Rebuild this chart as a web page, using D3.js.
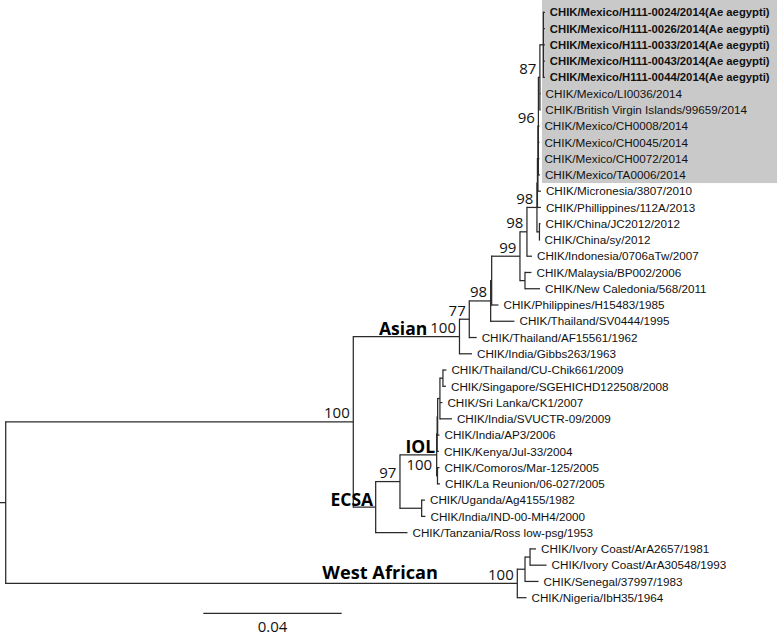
<!DOCTYPE html>
<html>
<head>
<meta charset="utf-8">
<script src="https://cdn.jsdelivr.net/npm/d3@7"></script>
<style>
  html, body { margin: 0; padding: 0; background: #fff; }
  svg { display: block; }
</style>
</head>
<body>
<svg id="chart" width="777" height="635"></svg>
<script>
// ---------------- DATA ----------------
// Tips, in drawing order (top to bottom)
const tipNames = [
  "CHIK/Mexico/H111-0024/2014(Ae aegypti)",
  "CHIK/Mexico/H111-0026/2014(Ae aegypti)",
  "CHIK/Mexico/H111-0033/2014(Ae aegypti)",
  "CHIK/Mexico/H111-0043/2014(Ae aegypti)",
  "CHIK/Mexico/H111-0044/2014(Ae aegypti)",
  "CHIK/Mexico/LI0036/2014",
  "CHIK/British Virgin Islands/99659/2014",
  "CHIK/Mexico/CH0008/2014",
  "CHIK/Mexico/CH0045/2014",
  "CHIK/Mexico/CH0072/2014",
  "CHIK/Mexico/TA0006/2014",
  "CHIK/Micronesia/3807/2010",
  "CHIK/Phillippines/112A/2013",
  "CHIK/China/JC2012/2012",
  "CHIK/China/sy/2012",
  "CHIK/Indonesia/0706aTw/2007",
  "CHIK/Malaysia/BP002/2006",
  "CHIK/New Caledonia/568/2011",
  "CHIK/Philippines/H15483/1985",
  "CHIK/Thailand/SV0444/1995",
  "CHIK/Thailand/AF15561/1962",
  "CHIK/India/Gibbs263/1963",
  "CHIK/Thailand/CU-Chik661/2009",
  "CHIK/Singapore/SGEHICHD122508/2008",
  "CHIK/Sri Lanka/CK1/2007",
  "CHIK/India/SVUCTR-09/2009",
  "CHIK/India/AP3/2006",
  "CHIK/Kenya/Jul-33/2004",
  "CHIK/Comoros/Mar-125/2005",
  "CHIK/La Reunion/06-027/2005",
  "CHIK/Uganda/Ag4155/1982",
  "CHIK/India/IND-00-MH4/2000",
  "CHIK/Tanzania/Ross low-psg/1953",
  "CHIK/Ivory Coast/ArA2657/1981",
  "CHIK/Ivory Coast/ArA30548/1993",
  "CHIK/Senegal/37997/1983",
  "CHIK/Nigeria/IbH35/1964"
];
const tipParents = [
  "H111","H111","H111","H111","H111",
  "N87","N87",
  "N96","N96","N96","N96",
  "V","W","CHN","CHN",
  "N98b","MALNC","MALNC",
  "N98i","N98","N77","ASIAN",
  "CUSG","CUSG","R","R","Q","P","COMLR","COMLR",
  "UGIND","UGIND","ECSA",
  "IC","IC","WA1","WA"
];
// branch lengths (substitutions/site)
const tipLengths = [
  0.00043,0.00043,0.00043,0.00043,0.00043,
  0.0002,0.0001,
  0.00029,0.00029,0.00029,0.00043,
  0.00087,0.00101,0.00029,0.00003,
  0.00145,0.00188,0.00434,
  0.00197,0.00688,0.00214,0.00361,
  0.00101,0.00087,0.00072,0.00347,0.00052,0.00052,0.00058,0.00072,
  0.00095,0.0011,0.00919,
  0.00173,0.00477,0.0039,0.00266
];

// Internal nodes
const nodeIds     = ["root","AE","ASIAN","N77","N98","N98i","N99","N98b","N98a","W","V","N96","N87","H111","CHN","MALNC",
                     "ECSA","N97","IOL","P","Q","R","CUSG","COMLR","UGIND","WA","WA1","IC"];
const nodeParents = ["",    "root","AE","ASIAN","N77","N98","N98i","N99","N98b","N98a","W","V","N96","N87","N98a","N99",
                     "AE","ECSA","N97","IOL","P","Q","R","IOL","N97","root","WA","WA1"];
const nodeLengths = [0,     0.10046,0.03069,0.00283,0.00618,0.00029,0.00818,0.00202,0.00289,0.00014,0.00014,0.00014,0.00043,0.00101,0.00072,0.00145,
                     0.00647,0.00702,0.01061,0.00014,0.00014,0.00066,0.00087,0.00023,0.00627,0.14786,0.00223,0.00145];
const nodeSupport = [null,  100,100,77,98,null,99,98,98,null,null,96,87,null,null,null,
                     null,97,100,null,null,null,null,null,null,100,null,null];

// Clade labels
const cladeNodes  = ["ASIAN","ECSA","IOL","WA"];
const cladeLabels = ["Asian","ECSA","IOL","West African"];

// Highlighted (shaded) tips: Mexican outbreak clade
const shadedTipCount = 11;
const scaleBarValue = 0.04;

// ---------------- BUILD TREE ----------------
const rows = [];
nodeIds.forEach((id, i) => rows.push({id, parent: nodeParents[i] || null, len: nodeLengths[i], support: nodeSupport[i], tip: false}));
tipNames.forEach((name, i) => rows.push({id: "t" + i, name, idx: i, parent: tipParents[i], len: tipLengths[i], tip: true}));

const root = d3.stratify().id(d => d.id).parentId(d => d.parent)(rows);

const x = d3.scaleLinear().domain([0, 0.2]).range([5.7, 5.7 + 0.2 * 3460]);
const y = d3.scaleLinear().domain([0, tipNames.length - 1]).range([12.3, 597.7]);

root.eachBefore(n => { n.dist = n.parent ? n.parent.dist + n.data.len : 0; n.px = x(n.dist); });
root.eachAfter(n => {
  if (!n.children) n.py = y(n.data.idx);
  else {
    const ys = n.children.map(c => c.py);
    n.py = (d3.min(ys) + d3.max(ys)) / 2;
  }
});
const byId = {};
root.each(n => byId[n.id] = n);

// ---------------- DRAW ----------------
const svg = d3.select("#chart");

// shaded box
const shadeBottom = (y(shadedTipCount - 1) + y(shadedTipCount)) / 2;
svg.append("rect")
  .attr("x", 542).attr("y", 0)
  .attr("width", 777 - 542).attr("height", shadeBottom)
  .attr("fill", "#c9c9c9");

const g = svg.append("g");
const lineColor = "#2a2a2a";
const lw = 1.25;

// branches
root.descendants().forEach(n => {
  const x0 = n.parent ? n.parent.px : 0;
  g.append("line").attr("x1", x0).attr("x2", n.px).attr("y1", n.py).attr("y2", n.py)
    .attr("stroke", lineColor).attr("stroke-width", lw);
  if (n.children) {
    const ys = n.children.map(c => c.py);
    g.append("line").attr("x1", n.px).attr("x2", n.px)
      .attr("y1", d3.min(ys) - lw / 2).attr("y2", d3.max(ys) + lw / 2)
      .attr("stroke", lineColor).attr("stroke-width", lw);
  }
});

// tip labels
root.leaves().forEach(n => {
  const bold = n.data.name.includes("Ae aegypti");
  g.append("text")
    .attr("x", n.px + 5).attr("y", n.py).attr("dy", "0.36em")
    .attr("font-family", "'Liberation Sans', Arial, Helvetica, sans-serif")
    .attr("font-size", bold ? "11.3px" : "11.7px")
    .attr("font-weight", bold ? "bold" : "normal")
    .attr("fill", "#111")
    .text(n.data.name);
});

// support values
const supFont = "'Open Sans', 'DejaVu Sans', sans-serif";
const supEls = {};
root.descendants().forEach(n => {
  if (n.data.support == null) return;
  const below = n.id === "IOL";
  supEls[n.id] = g.append("text")
    .attr("x", n.px - (below ? 4.5 : 3.5))
    .attr("y", below ? n.py + 15.5 : n.py - 3.5)
    .attr("text-anchor", "end")
    .attr("font-family", supFont)
    .attr("font-size", "15px")
    .attr("fill", "#111")
    .text(n.data.support);
});

// clade labels
cladeNodes.forEach((id, i) => {
  const n = byId[id];
  let lx, ly;
  if (id === "ASIAN") {
    const b = supEls[id].node().getBBox();
    lx = b.x - 3; ly = n.py - 2;
  } else if (id === "ECSA") {
    lx = n.px - 2.5; ly = n.py - 1.5;
  } else if (id === "IOL") {
    lx = n.px - 1.5; ly = n.py - 2;
  } else {
    const b = supEls[id].node().getBBox();
    lx = b.x - 50; ly = n.py - 4.5;
  }
  g.append("text")
    .attr("x", lx).attr("y", ly)
    .attr("text-anchor", "end")
    .attr("font-family", supFont)
    .attr("font-weight", "bold")
    .attr("font-size", id === "WA" ? "18.2px" : "17.5px")
    .attr("fill", "#000")
    .text(cladeLabels[i]);
});

// scale bar
const barX0 = 203.3, barY = 613.3;
const barLen = x(scaleBarValue) - x(0);
g.append("line").attr("x1", barX0).attr("x2", barX0 + barLen).attr("y1", barY).attr("y2", barY)
  .attr("stroke", lineColor).attr("stroke-width", lw);
g.append("text")
  .attr("x", barX0 + barLen / 2).attr("y", 632)
  .attr("text-anchor", "middle")
  .attr("font-family", supFont)
  .attr("font-size", "15px")
  .attr("fill", "#111")
  .text(d3.format(".2f")(scaleBarValue));
</script>
</body>
</html>
